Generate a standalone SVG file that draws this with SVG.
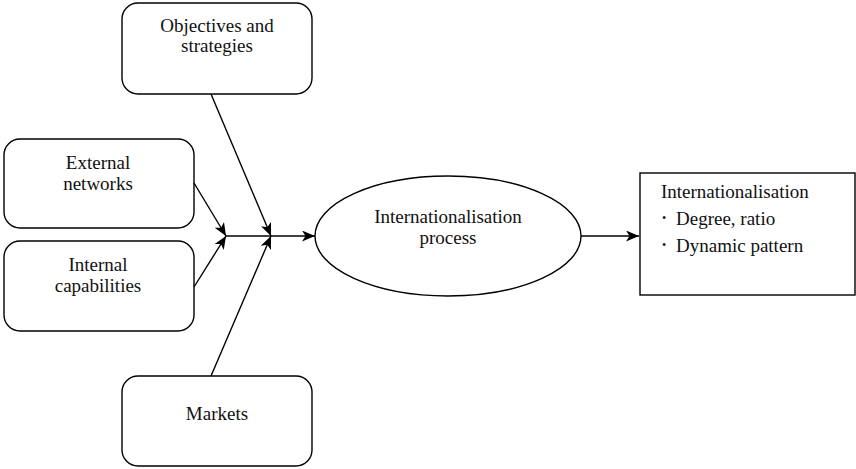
<svg xmlns="http://www.w3.org/2000/svg" width="856" height="469" viewBox="0 0 856 469">
<style>
.box{fill:#fff;stroke:#000;stroke-width:1.4}
.t{font-family:'Liberation Serif','DejaVu Serif','Times New Roman',serif;font-size:19px;fill:#111;text-anchor:middle}
.tl{font-family:'Liberation Serif','DejaVu Serif','Times New Roman',serif;font-size:19px;fill:#111}
.b{font-family:'Liberation Serif','DejaVu Serif',serif;font-size:12px;fill:#111}
.c{stroke:#000;stroke-width:1.4;fill:none}
</style>
<defs>
<marker id="ah" viewBox="0 0 13 11" refX="13" refY="5.5" markerWidth="13" markerHeight="11" markerUnits="userSpaceOnUse" orient="auto">
<path d="M0,0 L13,5.5 L0,11 L3.5,5.5 Z" fill="#000"/>
</marker>
</defs>
<rect width="856" height="469" fill="#fff"/>
<g id="objectives">
<rect class="box" x="122" y="3" width="190" height="91" rx="16"/>
<text class="t" x="217" y="32">Objectives and</text>
<text class="t" x="217" y="52">strategies</text>
</g>
<g id="external">
<rect class="box" x="4" y="139" width="190" height="89" rx="16"/>
<text class="t" x="98" y="169">External</text>
<text class="t" x="98" y="190">networks</text>
</g>
<g id="internal">
<rect class="box" x="4" y="241" width="190" height="90" rx="16"/>
<text class="t" x="98" y="271">Internal</text>
<text class="t" x="98" y="292">capabilities</text>
</g>
<g id="markets">
<rect class="box" x="122" y="376" width="190" height="90" rx="16"/>
<text class="t" x="217" y="420">Markets</text>
</g>
<g id="process">
<ellipse class="box" cx="448" cy="236" rx="133" ry="60"/>
<text class="t" x="448" y="223">Internationalisation</text>
<text class="t" x="448" y="244">process</text>
</g>
<g id="outcome">
<rect class="box" x="640" y="173" width="215" height="122"/>
<text class="tl" x="661" y="198">Internationalisation</text>
<text class="b" x="662" y="222">•</text>
<text class="tl" x="676" y="225">Degree, ratio</text>
<text class="b" x="662" y="249">•</text>
<text class="tl" x="676" y="252">Dynamic pattern</text>
</g>
<g id="connectors">
<line class="c" x1="194" y1="183" x2="226" y2="236" marker-end="url(#ah)"/>
<line class="c" x1="194" y1="287" x2="226" y2="236" marker-end="url(#ah)"/>
<line class="c" x1="211" y1="94" x2="271" y2="236" marker-end="url(#ah)"/>
<line class="c" x1="211" y1="376" x2="271" y2="236" marker-end="url(#ah)"/>
<line class="c" x1="226" y1="236" x2="315" y2="236" marker-end="url(#ah)"/>
<line class="c" x1="581" y1="236" x2="639" y2="236" marker-end="url(#ah)"/>
</g>
</svg>
